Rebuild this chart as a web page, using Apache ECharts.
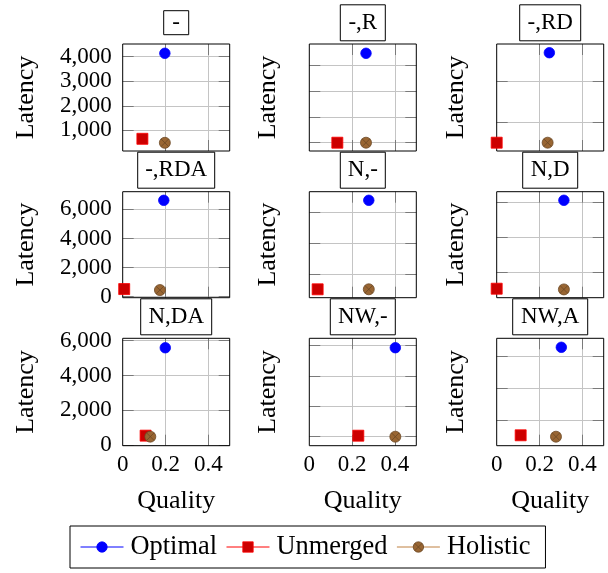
<!DOCTYPE html>
<html><head><meta charset="utf-8">
<script src="https://cdn.jsdelivr.net/npm/echarts@6/dist/echarts.min.js"></script>
<style>html,body{margin:0;padding:0;background:#fff}#chart{width:608px;height:573px}</style>
</head><body><div id="chart"></div>
<script>
// ---- data ----
const panelTitles = ['-', '-,R', '-,RD', '-,RDA', 'N,-', 'N,D', 'N,DA', 'NW,-', 'NW,A'];
const optimalQuality  = [0.197, 0.265, 0.246, 0.192, 0.278, 0.314, 0.199, 0.402, 0.302];
const optimalLatency  = [4139, 4483, 5370, 6621, 6774, 6137, 5596, 3934, 6588];
const unmergedQuality = [0.092, 0.131, 0.0, 0.007, 0.039, 0.0, 0.107, 0.229, 0.112];
const unmergedLatency = [653, 1000, 1012, 524, 1032, 1069, 554, 1033, 1088];
const holisticQuality = [0.197, 0.265, 0.238, 0.174, 0.278, 0.314, 0.129, 0.402, 0.277];
const holisticLatency = [490, 1000, 1012, 455, 1032, 1029, 496, 1000, 1000];
const latencyMin = [156, 677, 610, -70, 490, 554, -23, 703, 437];
const latencyMax = [4518, 4845, 5792, 7214, 7329, 6629, 6138, 4244, 7150];
const latencyTicks = [
  [1000, 2000, 3000, 4000], [1000, 2000, 3000, 4000], [2000, 4000],
  [0, 2000, 4000, 6000], [2000, 4000, 6000], [2000, 4000, 6000],
  [0, 2000, 4000, 6000], [1000, 2000, 3000, 4000], [2000, 4000, 6000]
];
const qualityMin = 0, qualityMax = 0.5;
const qualityLabels = [0, 0.2, 0.4];
const qualityGrid = [0.2, 0.4];
const seriesNames = ['Optimal', 'Unmerged', 'Holistic'];

// ---- layout & style ----
const FONT = "'Liberation Serif', 'DejaVu Serif', serif";
const colLeft = [122.7, 309.3, 496.7];
const rowTop = [44, 191.7, 338.3];
const rowHeight = [107, 106, 107.4];
const plotWidth = 107;
const titleTop = [4.3, 151.7, 298.3];
const gridColor = '#c4c4c4';
const tickColor = '#7a7a7a';
const otimes = 'path://M0,10A10,10 0 1,1 20,10A10,10 0 1,1 0,10Z M2.93,2.93L17.07,17.07 M17.07,2.93L2.93,17.07';
const styles = {
  Optimal:  {symbol: 'circle', size: 10.5, itemStyle: {color: '#0000ff', borderColor: '#0000ff', borderWidth: 0.8}, lineStyle: {color: '#0000ff', width: 1}},
  Unmerged: {symbol: 'rect', size: 11, itemStyle: {color: '#cc0000', borderColor: '#ff0000', borderWidth: 0.8}, lineStyle: {color: '#ff0000', width: 1}},
  Holistic: {symbol: otimes, size: 11, itemStyle: {color: '#996633', borderColor: '#6b4724', borderWidth: 0.8}, lineStyle: {color: '#bf8040', width: 1}}
};
const dataSets = {
  Optimal: [optimalQuality, optimalLatency],
  Unmerged: [unmergedQuality, unmergedLatency],
  Holistic: [holisticQuality, holisticLatency]
};

const grids = [], xAxes = [], yAxes = [], series = [], titles = [];
const hiddenLine = {show: false, onZero: false};
panelTitles.forEach((t, i) => {
  const row = Math.floor(i / 3), col = i % 3;
  grids.push({left: colLeft[col], top: rowTop[row], width: plotWidth, height: rowHeight[row],
    show: true, z: 1, backgroundColor: 'transparent', borderColor: '#000', borderWidth: 1});
  const pad = t === '-' ? [0.5, 9] : [7, 8];
  titles.push({
    text: t, left: colLeft[col] + plotWidth / 2 - pad[1], top: titleTop[row] + (t === '-' ? 6.4 : 0),
    textAlign: 'center', borderColor: '#000', borderWidth: 1, padding: pad,
    textStyle: {fontFamily: FONT, fontSize: 23, fontWeight: 'normal', color: '#000', lineHeight: 23}
  });
  const tick = {show: true, inside: true, length: 11, lineStyle: {color: tickColor, width: 1}};
  // primary x
  xAxes.push({gridIndex: i, type: 'value', min: qualityMin, max: qualityMax, position: 'bottom',
    axisLine: hiddenLine,
    axisTick: Object.assign({customValues: qualityGrid}, tick),
    axisLabel: {show: row === 2, customValues: qualityLabels, margin: 8, fontFamily: FONT, fontSize: 23, color: '#000',
      formatter: v => String(v)},
    splitLine: {show: true, lineStyle: {color: gridColor, width: 1}},
    name: row === 2 ? 'Quality' : '', nameLocation: 'middle', nameGap: 42,
    nameTextStyle: {fontFamily: FONT, fontSize: 26, color: '#000'}
  });
  // top mirror x
  xAxes.push({gridIndex: i, type: 'value', min: qualityMin, max: qualityMax, position: 'top',
    axisLine: hiddenLine,
    axisTick: Object.assign({customValues: qualityGrid}, tick),
    axisLabel: {show: false}, splitLine: {show: false}
  });
  // primary y
  yAxes.push({gridIndex: i, type: 'value', min: latencyMin[i], max: latencyMax[i], position: 'left',
    axisLine: hiddenLine,
    axisTick: Object.assign({customValues: latencyTicks[i]}, tick),
    axisLabel: {show: col === 0, customValues: latencyTicks[i], margin: 11, fontFamily: FONT, fontSize: 23, color: '#000',
      formatter: v => v.toLocaleString('en-US')},
    splitLine: {show: true, lineStyle: {color: gridColor, width: 1}},
    name: 'Latency', nameLocation: 'middle', nameGap: col === 0 ? 84 : 28,
    nameTextStyle: {fontFamily: FONT, fontSize: 26, color: '#000'}
  });
  // right mirror y
  yAxes.push({gridIndex: i, type: 'value', min: latencyMin[i], max: latencyMax[i], position: 'right',
    axisLine: hiddenLine,
    axisTick: Object.assign({customValues: latencyTicks[i]}, tick),
    axisLabel: {show: false}, splitLine: {show: false}
  });
  seriesNames.forEach(name => {
    const st = styles[name];
    const [q, l] = dataSets[name];
    series.push({
      name, type: 'line', xAxisIndex: i * 2, yAxisIndex: i * 2,
      data: [[q[i], l[i]]], symbol: st.symbol, symbolSize: st.size, symbolKeepAspect: true,
      itemStyle: st.itemStyle, lineStyle: st.lineStyle, clip: false, z: 3,
      emphasis: {disabled: true}, silent: true
    });
  });
});

const chart = echarts.init(document.getElementById('chart'), null, {renderer: 'canvas'});
chart.setOption({
  animation: false,
  backgroundColor: '#fff',
  title: titles,
  grid: grids,
  xAxis: xAxes,
  yAxis: yAxes,
  series,
  legend: {
    left: 70, top: 526, orient: 'horizontal',
    itemWidth: 43, itemHeight: 13, itemGap: 9,
    padding: [8, 15, 8, 10],
    borderColor: '#000', borderWidth: 1, backgroundColor: '#fff',
    textStyle: {fontFamily: FONT, fontSize: 26.4, color: '#000', padding: [0, 0, 0, 2]},
    selectedMode: false,
    data: seriesNames.map(n => ({name: n, itemStyle: styles[n].itemStyle, lineStyle: styles[n].lineStyle}))
  }
});
</script></body></html>
